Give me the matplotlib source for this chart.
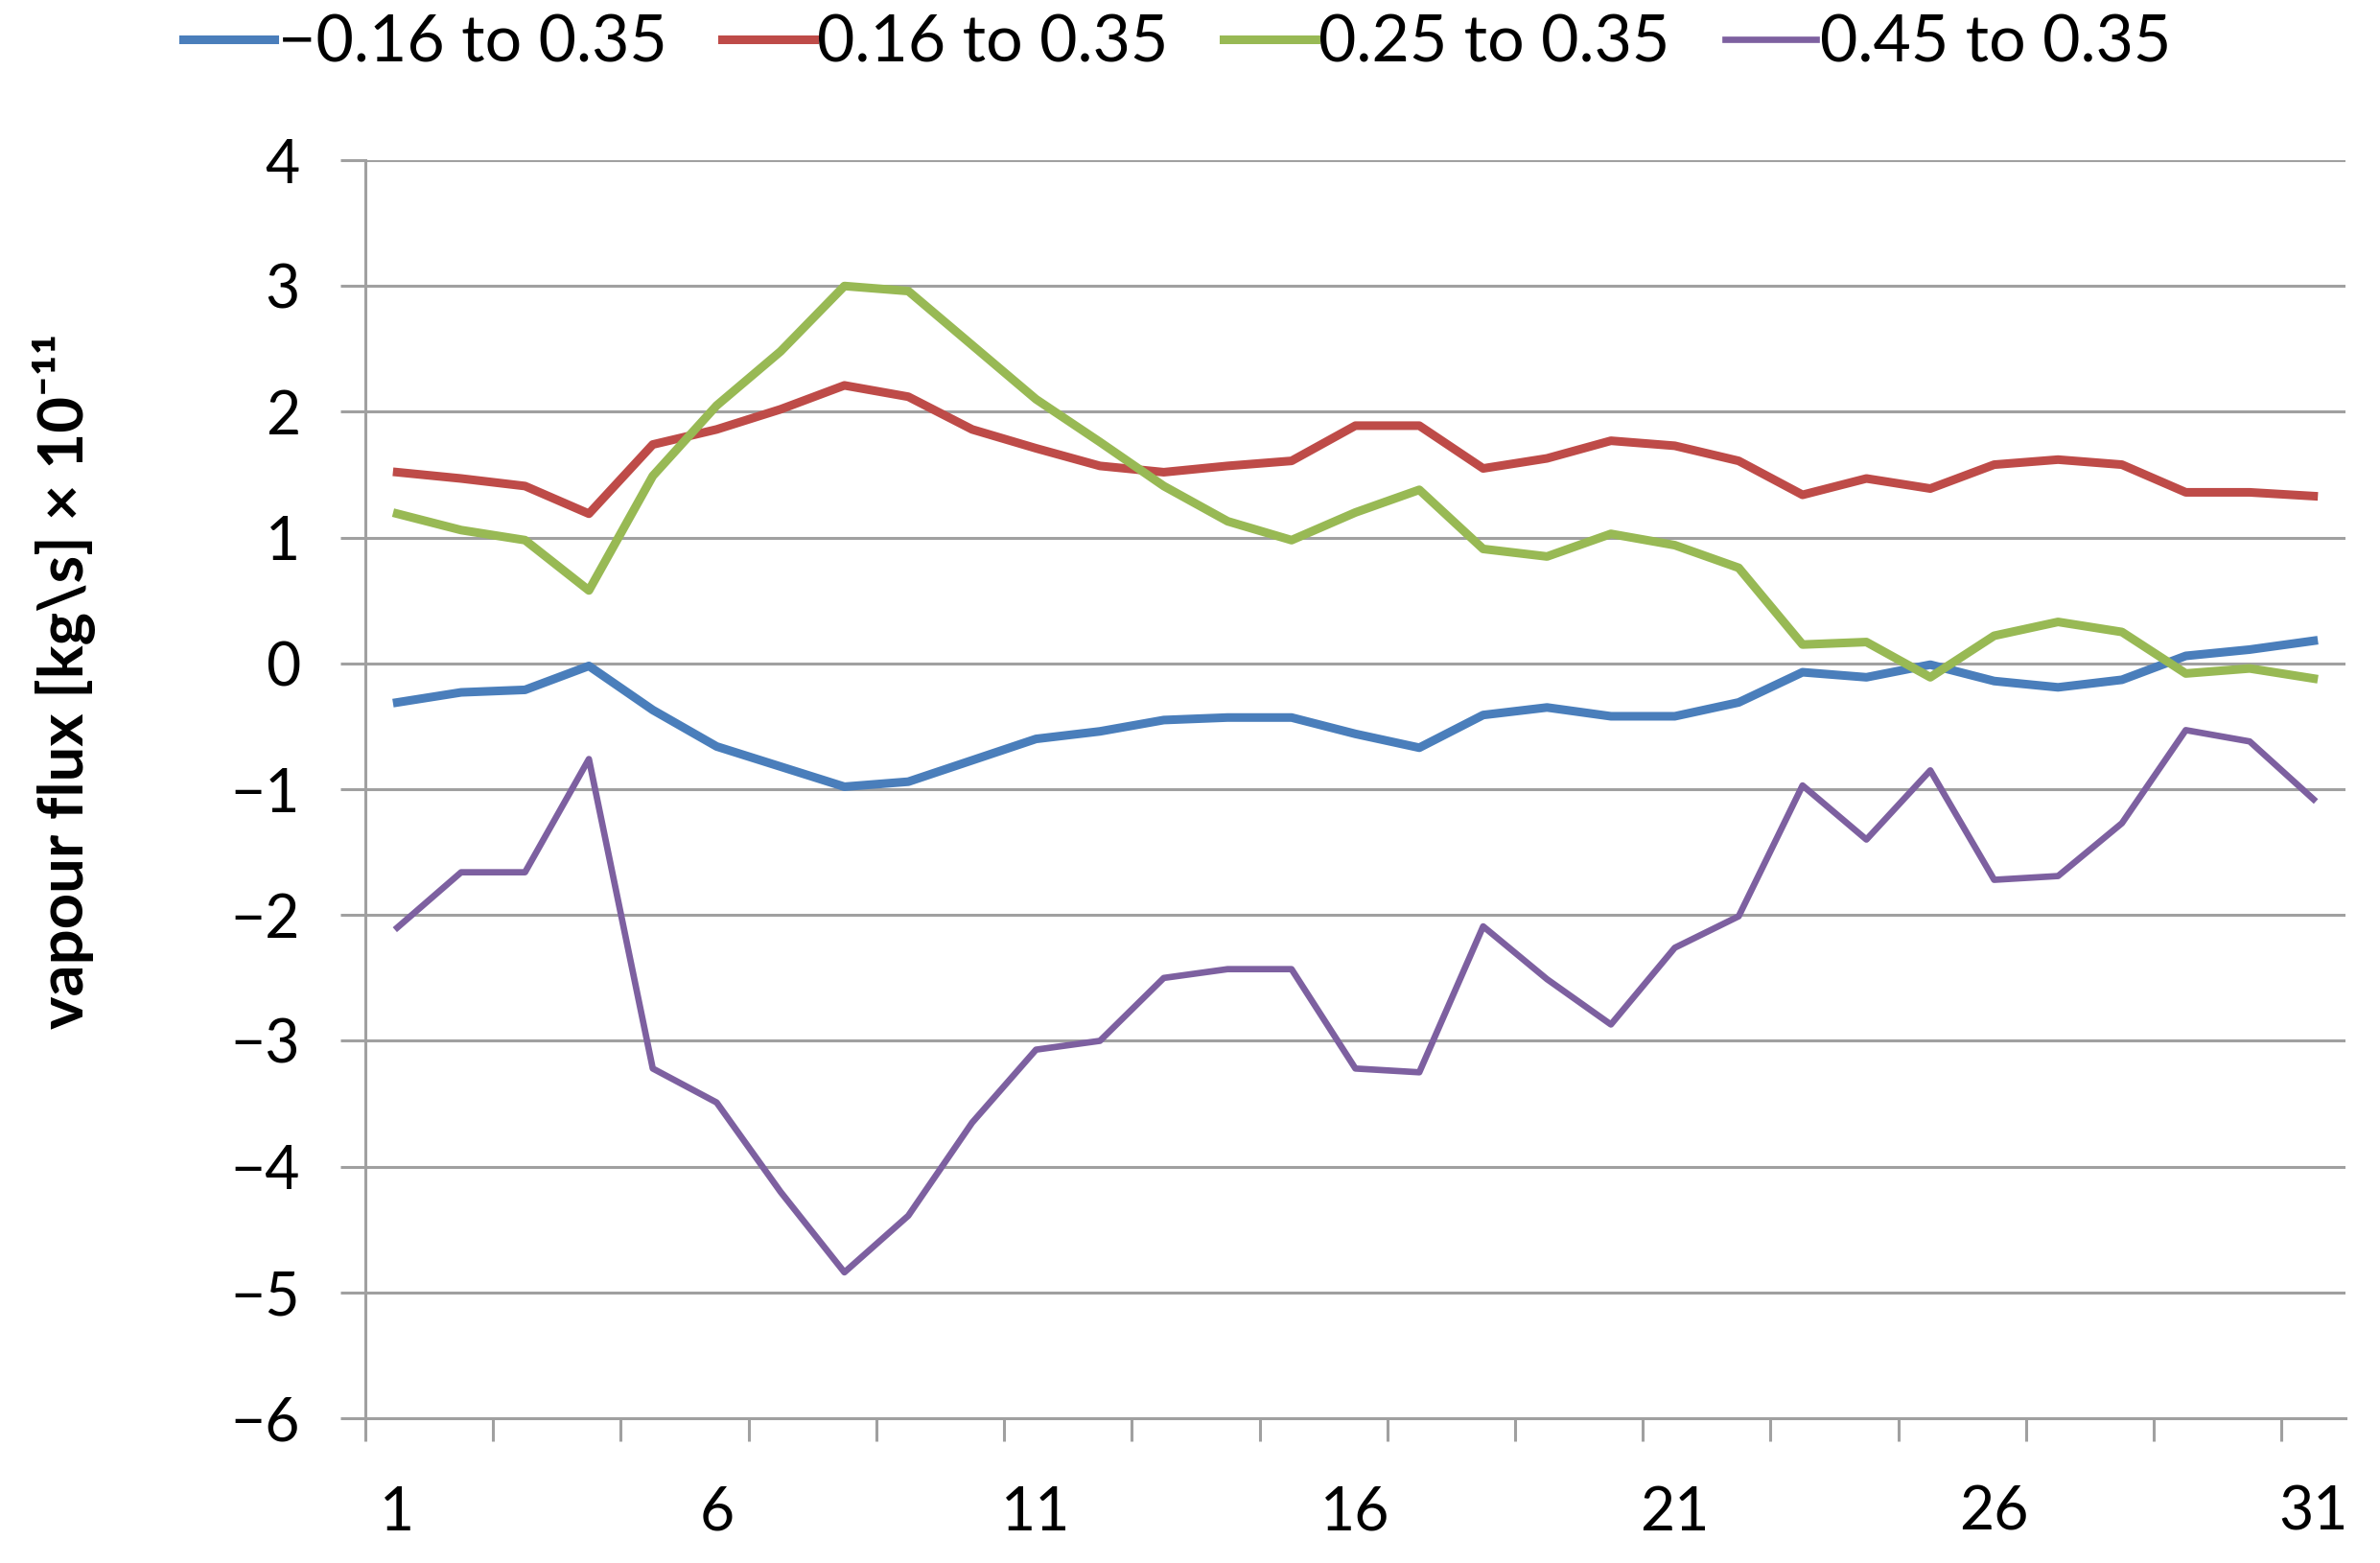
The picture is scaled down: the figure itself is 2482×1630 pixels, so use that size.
import matplotlib.pyplot as plt
import numpy as np

plt.rcParams['font.family'] = ['Lato', 'DejaVu Sans']

# day index 1..31
days = list(range(1, 32))

# vapour flux values (x 1e-11 kg/s)
flux_m016 = [-0.31, -0.23, -0.21, -0.02, -0.37, -0.66, -0.82, -0.98, -0.94, -0.77,
             -0.60, -0.54, -0.45, -0.43, -0.43, -0.56, -0.67, -0.41, -0.35, -0.42,
             -0.42, -0.31, -0.07, -0.11, -0.01, -0.14, -0.19, -0.13, 0.06, 0.11, 0.18]
flux_016 = [1.52, 1.47, 1.41, 1.19, 1.74, 1.86, 2.02, 2.21, 2.12, 1.86,
            1.71, 1.57, 1.52, 1.57, 1.61, 1.89, 1.89, 1.55, 1.63, 1.77,
            1.73, 1.61, 1.34, 1.47, 1.39, 1.58, 1.62, 1.58, 1.36, 1.36, 1.33]
flux_025 = [1.19, 1.06, 0.98, 0.58, 1.49, 2.05, 2.48, 3.00, 2.96, 2.53,
            2.10, 1.76, 1.41, 1.13, 0.98, 1.20, 1.38, 0.91, 0.85, 1.03,
            0.94, 0.76, 0.15, 0.17, -0.11, 0.22, 0.33, 0.25, -0.08, -0.04, -0.12]
flux_045 = [-2.10, -1.66, -1.66, -0.76, -3.22, -3.49, -4.20, -4.84, -4.39, -3.65,
            -3.07, -3.00, -2.50, -2.43, -2.43, -3.22, -3.25, -2.09, -2.51, -2.87,
            -2.26, -2.01, -0.97, -1.40, -0.85, -1.72, -1.69, -1.27, -0.53, -0.62, -1.08]

labels = ["\u22120.16 to 0.35", "0.16 to 0.35", "0.25 to 0.35", "0.45 to 0.35"]
colors = ["#4A7EBB", "#BE4B48", "#98B954", "#7D60A0"]

fig = plt.figure(figsize=(24.82, 16.30), dpi=100)
ax = fig.add_axes([0.1535, 0.0926, 0.832, 0.8049])

series = [flux_m016, flux_016, flux_025, flux_045]
widths = [6.5, 6.5, 6.5, 4.8]
for vals, lab, col, lw in zip(series, labels, colors, widths):
    ax.plot(days, vals, color=col, lw=lw, label=lab)

grey = '#A0A0A0'
ax.set_xlim(0.5, 31.5)
ax.set_ylim(-6, 4)
ax.set_yticks(np.arange(-6, 5, 1))
ax.set_xticks([1, 6, 11, 16, 21, 26, 31])
ax.set_xticks(np.arange(0.5, 31, 2), minor=True)

ax.yaxis.grid(True, color=grey, lw=2.2)
ax.set_axisbelow(True)
for side in ['top', 'right']:
    ax.spines[side].set_visible(False)
for side in ['left', 'bottom']:
    ax.spines[side].set_color(grey)
    ax.spines[side].set_linewidth(2.2)

ax.tick_params(axis='x', which='major', length=0, pad=50, labelsize=45)
ax.tick_params(axis='x', which='minor', length=17, width=2.2, color=grey, direction='out')
ax.tick_params(axis='y', length=19, width=2.2, color=grey, pad=30, labelsize=45)

fig.text(0.027, 0.564, "vapour flux [kg\\s] \u00d7 10\u207b\u00b9\u00b9", rotation=90,
         ha='center', va='center', fontsize=47, fontweight='bold')

fig.legend(loc='center', bbox_to_anchor=(0.4946, 0.972), ncol=4, frameon=False,
           fontsize=49, handlelength=1.4, handletextpad=0.05, columnspacing=0.85)

fig.savefig('out.png', dpi=100)
